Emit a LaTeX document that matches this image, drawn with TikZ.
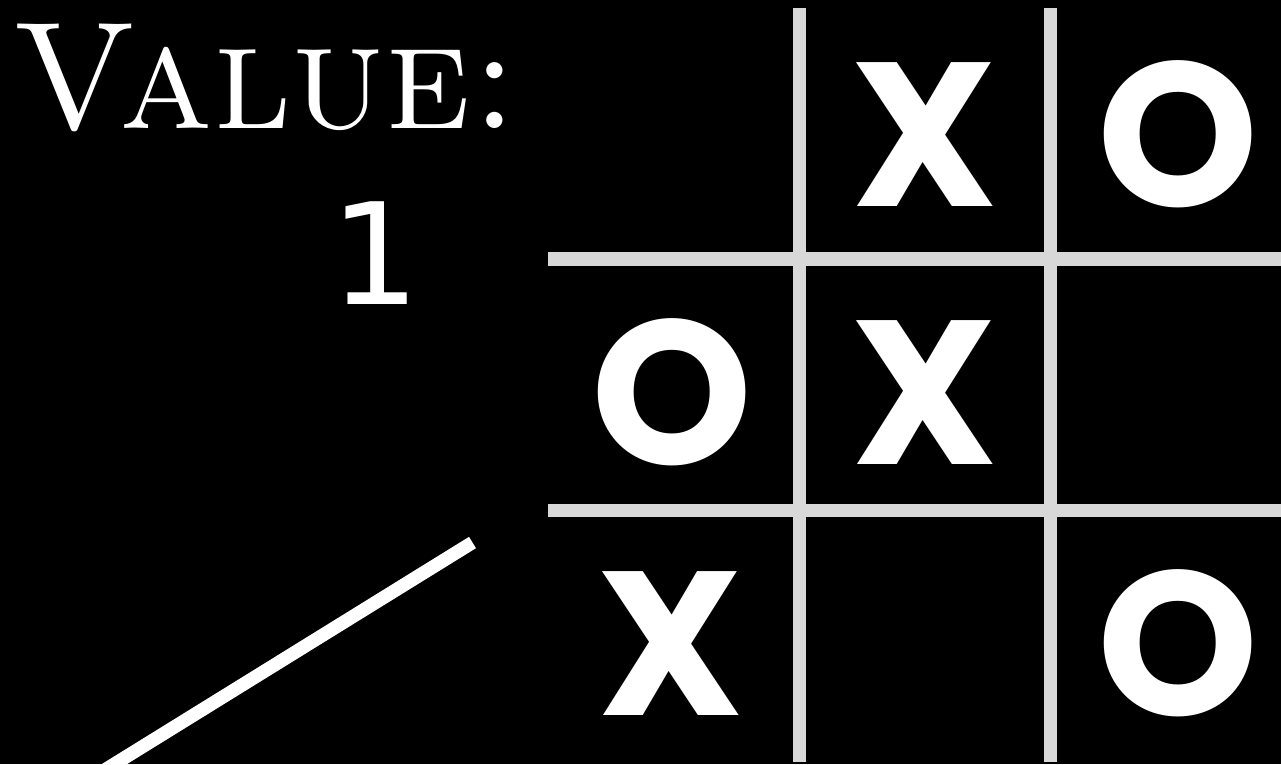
\documentclass[tikz,border=0pt]{standalone}
\usepackage{fontspec}
\newfontfamily\xofont{Poppins}
\newfontfamily\onefont{DejaVu Sans}
\definecolor{gridgray}{RGB}{216,216,216}
\begin{document}
\begin{tikzpicture}[x=1pt,y=-1pt,
  gridline/.style={draw=gridgray,line width=13.3pt},
  xostyle/.style={anchor=base,inner sep=0pt,text depth=0pt,text=white,font=\xofont\bfseries\fontsize{205}{205}\selectfont},
  valtext/.style={inner sep=0pt,text depth=0pt,text=white}]
\useasboundingbox (0,0) rectangle (1281,764);
\fill[black] (0,0) rectangle (1281,764);
\clip (0,0) rectangle (1281,764);
% grid
\coordinate (v1t) at (799.5,8);    \coordinate (v1b) at (799.5,762);
\coordinate (v2t) at (1050.5,8);   \coordinate (v2b) at (1050.5,762);
\coordinate (h1l) at (548,259);    \coordinate (h1r) at (1300,259);
\coordinate (h2l) at (548,510.5);  \coordinate (h2r) at (1300,510.5);
\draw[gridline] (v1t) -- (v1b);
\draw[gridline] (v2t) -- (v2b);
\draw[gridline] (h1l) -- (h1r);
\draw[gridline] (h2l) -- (h2r);
% marks
\node[xostyle] (c12) at (924.5,206) {X};
\node[xostyle] (c13) at (1178.5,206) {O};
\node[xostyle] (c21) at (672,464.5) {O};
\node[xostyle] (c22) at (924.5,464.5) {X};
\node[xostyle] (c31) at (671,715) {X};
\node[xostyle] (c33) at (1178.5,715) {O};
% value text
\node[valtext,scale=15.3,anchor=base] (val) at (266,128) {\textsc{Value:}};
\node[valtext,anchor=base,font=\onefont\fontsize{141}{141}\selectfont] (one) at (375,304) {1};
% edge
\coordinate (et) at (472.5,542.5);
\coordinate (eb) at (56.3,800);
\draw[white,line width=13.3pt] (et) -- (eb);
\end{tikzpicture}
\end{document}
